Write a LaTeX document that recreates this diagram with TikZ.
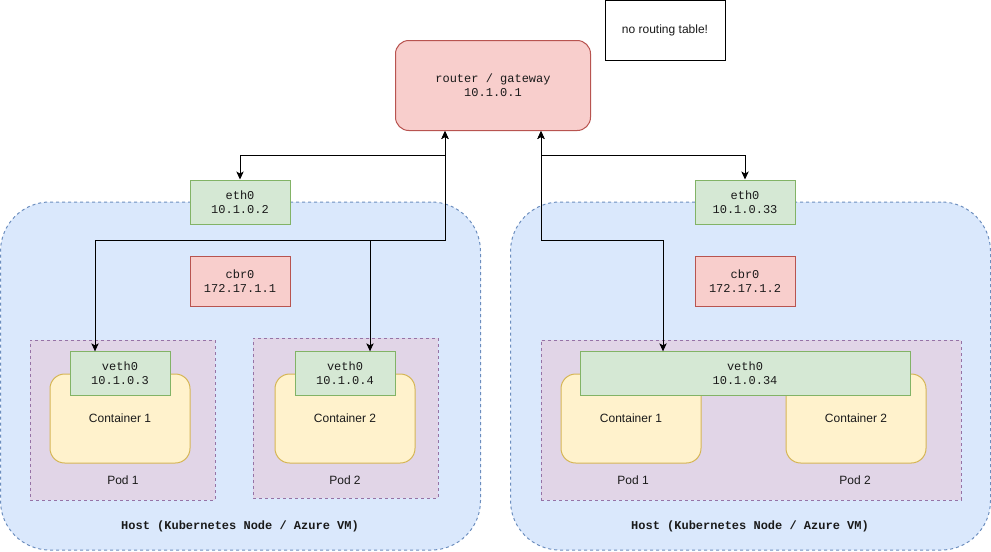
\documentclass[tikz,border=0pt]{standalone}
\usepackage{fontspec}
\setmainfont{Liberation Sans}
\newfontfamily\monofont{Liberation Mono}
\usetikzlibrary{arrows.meta}

\definecolor{redfill}{HTML}{F8CECC}
\definecolor{redline}{HTML}{B85450}
\definecolor{greenfill}{HTML}{D5E8D4}
\definecolor{greenline}{HTML}{82B366}
\definecolor{bluefill}{HTML}{DAE8FC}
\definecolor{blueline}{HTML}{6C8EBF}
\definecolor{purplefill}{HTML}{E1D5E7}
\definecolor{purpleline}{HTML}{9673A6}
\definecolor{yellowfill}{HTML}{FFF2CC}
\definecolor{yellowline}{HTML}{D6B656}
\definecolor{txt}{HTML}{1A1A1A}

\tikzset{
  base/.style={line width=0.75pt, inner sep=0pt, align=center, text=txt,
    font=\fontsize{9}{10.5}\selectfont},
  monotxt/.style={font=\monofont\fontsize{9}{10.5}\selectfont},
  hostbox/.style={base, draw=blueline, fill=bluefill, dashed,
    dash pattern=on 2.25pt off 2.25pt, rounded corners=37pt,
    minimum width=360pt, minimum height=261pt},
  podbox/.style={base, draw=purpleline, fill=purplefill, dashed,
    dash pattern=on 2.25pt off 2.25pt, minimum height=120pt},
  ctrbox/.style={base, draw=yellowline, fill=yellowfill, rounded corners=11pt,
    minimum width=105pt, minimum height=66.75pt},
  ifbox/.style={base, monotxt, draw=greenline, fill=greenfill,
    minimum width=75pt, minimum height=32.5pt},
  brbox/.style={base, monotxt, draw=redline, fill=redfill,
    minimum width=75pt, minimum height=37.5pt},
  lbl/.style={base},
  link/.style={line width=0.75pt, draw=black},
  >={Stealth[length=6pt, width=5.5pt, inset=1.5pt]},
}

\begin{document}
\begin{tikzpicture}[x=0.75pt, y=-0.75pt]
  \useasboundingbox (0,0) rectangle (991,551);

  % hosts
  \node[hostbox] (hostL) at (240.5,376) {};
  \node[hostbox] (hostR) at (750.5,376) {};
  \node[lbl, font=\monofont\bfseries\fontsize{9}{10.5}\selectfont] (hostLlbl) at (240,526) {Host (Kubernetes Node / Azure VM)};
  \node[lbl, font=\monofont\bfseries\fontsize{9}{10.5}\selectfont] (hostRlbl) at (750,526) {Host (Kubernetes Node / Azure VM)};

  % router and note
  \node[base, monotxt, draw=redline, fill=redfill, rounded corners=10pt,
        minimum width=146.25pt, minimum height=67.5pt] (router) at (493,85.5)
        {router / gateway\\10.1.0.1};
  \node[base, draw=black, fill=white, minimum width=90pt, minimum height=45pt]
        (note) at (665,30) {no routing table!};

  % host-level interfaces
  \node[ifbox, minimum height=33pt] (ethL) at (240,202) {eth0\\10.1.0.2};
  \node[ifbox, minimum height=33pt] (ethR) at (745,202) {eth0\\10.1.0.33};
  \node[brbox] (cbrL) at (240,281) {cbr0\\172.17.1.1};
  \node[brbox] (cbrR) at (745,281) {cbr0\\172.17.1.2};

  % left host pods
  \node[podbox, minimum width=138.75pt] (podL1) at (122.5,420) {};
  \node[podbox, minimum width=138.75pt] (podL2) at (345.5,418) {};
  \node[lbl] (podL1lbl) at (123,480) {Pod 1};
  \node[lbl] (podL2lbl) at (345,480) {Pod 2};
  \node[ctrbox] (ctrL1) at (120,418.5) {Container 1};
  \node[ctrbox] (ctrL2) at (345,418.5) {Container 2};
  \node[ifbox] (vethL1) at (120,373.5) {veth0\\10.1.0.3};
  \node[ifbox] (vethL2) at (345,373.5) {veth0\\10.1.0.4};

  % right host pods sharing one interface
  \node[podbox, minimum width=315pt] (podR) at (751,420) {};
  \node[lbl] (podR1lbl) at (633,480) {Pod 1};
  \node[lbl] (podR2lbl) at (855,480) {Pod 2};
  \node[ctrbox] (ctrR1) at (631,418.5) {Container 1};
  \node[ctrbox] (ctrR2) at (856,418.5) {Container 2};
  \node[ifbox, minimum width=247.5pt] (vethR) at (745,373.5) {veth0\\10.1.0.34};

  % wiring: uplinks to the router and the pod bus inside each host
  \coordinate (busL) at (0,240);
  \coordinate (kL) at ([xshift=-18.75pt]vethL1.north |- busL);
  \coordinate (kR) at ([xshift=-61.5pt]vethR.north |- busL);

  \draw[link, <->] ([xshift=-36pt]router.south) -- ++(0,24.5) -| (ethL.north);
  \draw[link, <->] ([xshift=-36pt]router.south) |- (kL) -- ([xshift=-18.75pt]vethL1.north);
  \draw[link, ->] ([xshift=18.75pt]vethL2.north |- busL) -- ([xshift=18.75pt]vethL2.north);

  \draw[link, <->] ([xshift=36pt]router.south) -- ++(0,24.5) -| (ethR.north);
  \draw[link, <->] ([xshift=36pt]router.south) |- (kR) -- ([xshift=-61.5pt]vethR.north);
\end{tikzpicture}
\end{document}
